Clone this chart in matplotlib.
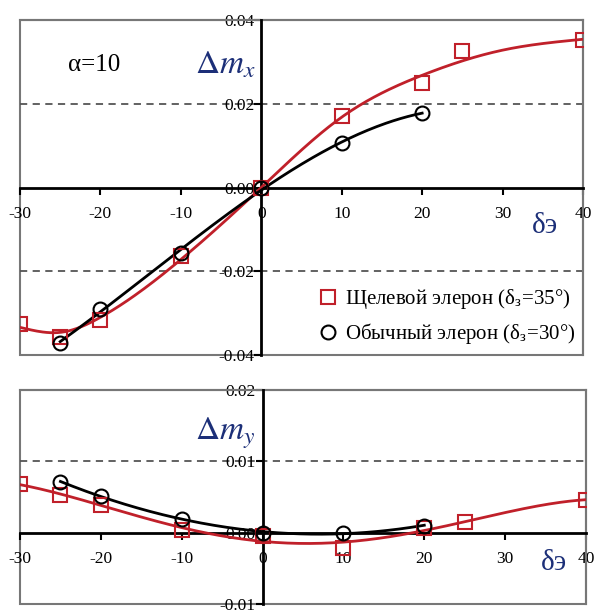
import numpy as np
import matplotlib
matplotlib.use("Agg")
import matplotlib.pyplot as plt
from matplotlib.patches import Rectangle
from matplotlib.ticker import FixedLocator, FixedFormatter

plt.rcParams['font.family'] = ['Liberation Serif', 'DejaVu Serif']
plt.rcParams['mathtext.fontset'] = 'stix'

# ---- data (markers) ----
x_slot = [-30, -25, -20, -10, 0, 10, 20, 25, 40]
mx_slot = [-0.0326, -0.0358, -0.0316, -0.0163, 0.0, 0.0170, 0.0249, 0.0326, 0.0352]
x_plain = [-25, -20, -10, 0, 10, 20]
mx_plain = [-0.0371, -0.0290, -0.0156, 0.0, 0.0106, 0.0178]

my_slot = [0.0068, 0.0053, 0.0039, 0.0004, -0.0004, -0.0022, 0.0007, 0.0015, 0.0046]
my_plain = [0.0071, 0.0052, 0.0019, 0.0000, 0.0000, 0.0010]

# ---- trend line of slotted aileron (top panel) ----
x_slot_trend = [-30, -25, -20, -10, 0, 10, 20, 30, 40]
mx_slot_trend = [-0.0334, -0.0346, -0.0310, -0.0172, 0.0,
                 0.0168, 0.0268, 0.0328, 0.0354]

xticks = [-30, -20, -10, 0, 10, 20, 30, 40]
xtick_labels = ['-30', '-20', '-10', '0', '10', '20', '30', '40']
top_yticks = [-0.04, -0.02, 0.0, 0.02, 0.04]
top_ylabels = ['-0.04', '-0.02', '0.00', '0.02', '0.04']
bot_yticks = [-0.01, 0.0, 0.01, 0.02]
bot_ylabels = ['-0.01', '0.00', '0.01', '0.02']

label_slot = 'Щелевой элерон (δ$_\\mathregular{з}$=35°)'
label_plain = 'Обычный элерон (δ$_\\mathregular{з}$=30°)'

RED = '#c0202a'
NAVY = '#1c2f78'

W, H = 595, 614
fig = plt.figure(figsize=(W / 100, H / 100), dpi=100)

def make_ax(l, r, t, b):
    return fig.add_axes([l / W, 1 - b / H, (r - l) / W, (b - t) / H])

ax1 = make_ax(20, 583, 20, 355)
ax2 = make_ax(20, 586, 390, 604)

def style(ax, ylim, yticks, ylabels, dashes):
    ax.set_xlim(-30, 40)
    ax.set_ylim(*ylim)
    for s in ['top', 'right']:
        ax.spines[s].set_color('#777777')
        ax.spines[s].set_linewidth(1.5)
    for s in ['left', 'bottom']:
        ax.spines[s].set_position(('data', 0))
        ax.spines[s].set_color('black')
        ax.spines[s].set_linewidth(2.0)
        ax.spines[s].set_zorder(3)
    ax.add_patch(Rectangle((0, 0), 1, 1, transform=ax.transAxes, fill=False,
                           ec='#777777', lw=1.5, clip_on=False, zorder=1))
    ax.xaxis.set_major_locator(FixedLocator(xticks))
    ax.xaxis.set_major_formatter(FixedFormatter(xtick_labels))
    ax.yaxis.set_major_locator(FixedLocator(yticks))
    ax.yaxis.set_major_formatter(FixedFormatter(ylabels))
    ax.tick_params(axis='x', direction='out', length=5, width=1.5, labelsize=12.5, pad=8)
    ax.tick_params(axis='y', direction='out', length=5, width=1.5, labelsize=12.5, pad=0)
    for yv in dashes:
        ax.axhline(yv, color='#555555', ls=(0, (4, 3)), lw=1.3, zorder=1)

style(ax1, (-0.04, 0.04), top_yticks, top_ylabels, [0.02, -0.02])
style(ax2, (-0.01, 0.02), bot_yticks, bot_ylabels, [0.01])

def natural_spline(xk, yk, xx):
    xk = np.asarray(xk, float); yk = np.asarray(yk, float)
    n = len(xk); h = np.diff(xk)
    A = np.zeros((n, n)); b = np.zeros(n)
    A[0, 0] = A[-1, -1] = 1.0
    for i in range(1, n - 1):
        A[i, i - 1] = h[i - 1]; A[i, i] = 2 * (h[i - 1] + h[i]); A[i, i + 1] = h[i]
        b[i] = 6 * ((yk[i + 1] - yk[i]) / h[i] - (yk[i] - yk[i - 1]) / h[i - 1])
    M = np.linalg.solve(A, b)
    idx = np.clip(np.searchsorted(xk, xx) - 1, 0, n - 2)
    x0, x1 = xk[idx], xk[idx + 1]; hh = h[idx]
    return (M[idx] * (x1 - xx)**3 / (6 * hh) + M[idx + 1] * (xx - x0)**3 / (6 * hh)
            + (yk[idx] / hh - M[idx] * hh / 6) * (x1 - xx)
            + (yk[idx + 1] / hh - M[idx + 1] * hh / 6) * (xx - x0))

def trend(ax, xs, ys, deg, color):
    c = np.polyfit(xs, ys, deg)
    xx = np.linspace(min(xs), max(xs), 200)
    ax.plot(xx, np.polyval(c, xx), color=color, lw=2, zorder=4)

# top panel
xx = np.linspace(-30, 40, 300)
ax1.plot(xx, natural_spline(x_slot_trend, mx_slot_trend, xx), color=RED, lw=2, zorder=4)
trend(ax1, x_plain, mx_plain, 3, 'black')
ax1.plot(x_slot, mx_slot, ls='none', marker='s', ms=10, mfc='none', mec=RED, mew=1.5,
         zorder=5, label=label_slot)
ax1.plot(x_plain, mx_plain, ls='none', marker='o', ms=10, mfc='none', mec='black', mew=1.5,
         zorder=5, label=label_plain)

# bottom panel
trend(ax2, x_slot, my_slot, 4, RED)
trend(ax2, x_plain, my_plain, 3, 'black')
ax2.plot(x_slot, my_slot, ls='none', marker='s', ms=10, mfc='none', mec=RED, mew=1.5, zorder=5)
ax2.plot(x_plain, my_plain, ls='none', marker='o', ms=10, mfc='none', mec='black', mew=1.5, zorder=5)

ax1.text(0.132, 0.866, 'α=10', transform=ax1.transAxes, fontsize=18, ha='center', va='center')
ax1.text(0.364, 0.866, r'$\Delta m_x$', transform=ax1.transAxes, fontsize=24, ha='center',
         va='center', color=NAVY)
ax2.text(0.362, 0.80, r'$\Delta m_y$', transform=ax2.transAxes, fontsize=24, ha='center',
         va='center', color=NAVY)
ax1.text(35.3, -0.0091, 'δэ', fontsize=21, ha='center', va='center', color=NAVY)
ax2.text(36.0, -0.0043, 'δэ', fontsize=21, ha='center', va='center', color=NAVY)

leg = ax1.legend(loc='lower right', bbox_to_anchor=(1.009, -0.01), frameon=False,
                 fontsize=15, handlelength=0.8, handletextpad=0.4, labelspacing=0.45,
                 borderaxespad=0.2)

fig.savefig('out.png', dpi=100)
